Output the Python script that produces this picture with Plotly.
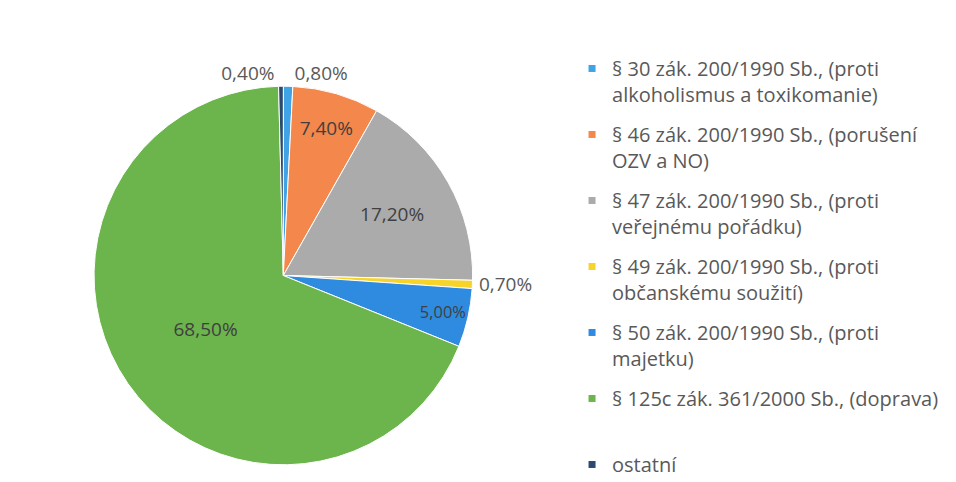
import plotly.graph_objects as go

labels = [
    "§ 30 zák. 200/1990 Sb., (proti<br>alkoholismus a toxikomanie)",
    "§ 46 zák. 200/1990 Sb., (porušení<br>OZV a NO)",
    "§ 47 zák. 200/1990 Sb., (proti<br>veřejnému pořádku)",
    "§ 49 zák. 200/1990 Sb., (proti<br>občanskému soužití)",
    "§ 50 zák. 200/1990 Sb., (proti<br>majetku)",
    "§ 125c zák. 361/2000 Sb., (doprava)",
    "ostatní",
]
values = [0.80, 7.40, 17.20, 0.70, 5.00, 68.50, 0.40]
colors = ["#3FA3E6", "#F4874B", "#ABABAB", "#F7D42A", "#2E8BE0", "#6CB44C", "#2B4A6E"]
positions = ["outside", "inside", "inside", "outside", "inside", "inside", "outside"]

FONT = "Open Sans, sans-serif"

fig = go.Figure()
fig.add_trace(go.Pie(
    labels=[l.replace("<br>", " ") for l in labels],
    values=values,
    sort=False,
    direction="clockwise",
    rotation=0,
    marker=dict(colors=colors, line=dict(color="white", width=1)),
    texttemplate="%{value:.2f}%",
    textposition=positions,
    insidetextorientation="horizontal",
    textfont=dict(family=FONT, size=19, color="#404040"),
    outsidetextfont=dict(family=FONT, size=19, color="#595959"),
    hovertemplate="%{label}: %{value:.2f}%<extra></extra>",
    domain=dict(x=[0.09, 0.486], y=[0.05, 0.84]),
    showlegend=False,
))

# legend entries (one group per slice so spacing can be controlled)
for i, (lab, col) in enumerate(zip(labels, colors)):
    name = lab if "<br>" in lab or lab == "ostatní" else lab + "<br> "
    fig.add_trace(go.Scatter(
        x=[None], y=[None], mode="markers",
        marker=dict(symbol="square", size=7, color=col),
        name=name, legendgroup=f"g{i}", showlegend=True,
        hoverinfo="skip",
    ))

fig.update_layout(
    width=956, height=482,
    separators=",.",
    margin=dict(l=0, r=0, t=0, b=0),
    paper_bgcolor="white",
    plot_bgcolor="white",
    xaxis=dict(visible=False),
    yaxis=dict(visible=False),
    showlegend=True,
    legend=dict(
        x=0.590, y=0.915, xanchor="left", yanchor="top",
        valign="top",
        tracegroupgap=11,
        font=dict(family=FONT, size=20, color="#595959"),
        itemwidth=30,
        bgcolor="rgba(0,0,0,0)",
    ),
)

fig.write_html("out.html")
